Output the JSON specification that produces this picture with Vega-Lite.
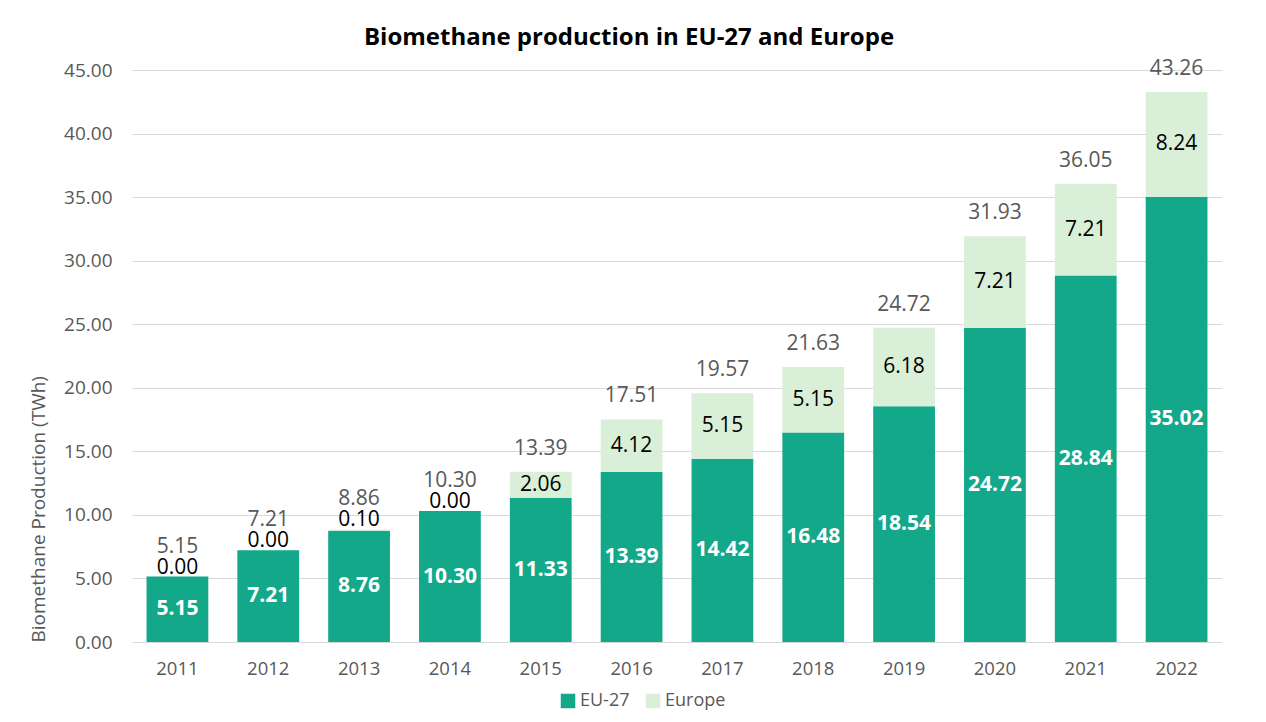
{
  "$schema": "https://vega.github.io/schema/vega-lite/v6.json",
  "width": 1090,
  "height": 572,
  "autosize": {"type": "none"},
  "padding": {"left": 132, "top": 70, "right": 44, "bottom": 80},
  "background": "white",
  "title": {
    "text": "Biomethane production in EU-27 and Europe",
    "fontSize": 24,
    "fontWeight": "bold",
    "color": "#000000",
    "font": "Open Sans",
    "anchor": "middle",
    "frame": "group",
    "dx": -48,
    "offset": 8
  },
  "config": {"view": {"stroke": null}, "font": "Open Sans"},
  "data": {
    "values": [
      {"year": "2011", "EU-27": 5.15, "Europe": 0.0, "total": 5.15},
      {"year": "2012", "EU-27": 7.21, "Europe": 0.0, "total": 7.21},
      {"year": "2013", "EU-27": 8.76, "Europe": 0.1, "total": 8.86},
      {"year": "2014", "EU-27": 10.3, "Europe": 0.0, "total": 10.3},
      {"year": "2015", "EU-27": 11.33, "Europe": 2.06, "total": 13.39},
      {"year": "2016", "EU-27": 13.39, "Europe": 4.12, "total": 17.51},
      {"year": "2017", "EU-27": 14.42, "Europe": 5.15, "total": 19.57},
      {"year": "2018", "EU-27": 16.48, "Europe": 5.15, "total": 21.63},
      {"year": "2019", "EU-27": 18.54, "Europe": 6.18, "total": 24.72},
      {"year": "2020", "EU-27": 24.72, "Europe": 7.21, "total": 31.93},
      {"year": "2021", "EU-27": 28.84, "Europe": 7.21, "total": 36.05},
      {"year": "2022", "EU-27": 35.02, "Europe": 8.24, "total": 43.26}
    ]
  },
  "encoding": {
    "x": {
      "field": "year",
      "type": "ordinal",
      "scale": {"paddingInner": 0.32, "paddingOuter": 0.16},
      "axis": {
        "title": null,
        "labelAngle": 0,
        "labelFontSize": 18.5,
        "labelColor": "#595959",
        "ticks": false,
        "domain": false,
        "grid": false,
        "labelPadding": 17
      }
    }
  },
  "layer": [
    {
      "transform": [{"fold": ["EU-27", "Europe"], "as": ["series", "value"]}],
      "mark": {"type": "bar"},
      "encoding": {
        "y": {
          "field": "value",
          "type": "quantitative",
          "stack": "zero",
          "title": "Biomethane Production (TWh)",
          "scale": {"domain": [0, 45], "nice": false},
          "axis": {
            "titleFontSize": 19,
            "titleFontWeight": "normal",
            "titleColor": "#595959",
            "titlePadding": 15,
            "titleAnchor": "start",
            "labelFontSize": 19,
            "labelColor": "#595959",
            "labelPadding": 20,
            "format": ".2f",
            "values": [0, 5, 10, 15, 20, 25, 30, 35, 40, 45],
            "ticks": false,
            "domain": false,
            "gridColor": "#d9d9d9",
            "gridWidth": 1
          }
        },
        "color": {
          "field": "series",
          "type": "nominal",
          "scale": {"domain": ["EU-27", "Europe"], "range": ["#14A88A", "#DAEFD7"]},
          "legend": {
            "title": null,
            "orient": "none",
            "direction": "horizontal",
            "legendX": 427,
            "legendY": 622,
            "symbolType": "square",
            "symbolSize": 210,
            "symbolStrokeWidth": 0,
            "labelFontSize": 18,
            "labelColor": "#595959",
            "labelOffset": 3,
            "columnPadding": 14
          }
        },
        "order": {"field": "series", "sort": "ascending"}
      }
    },
    {
      "transform": [{"calculate": "datum['EU-27'] / 2", "as": "euMid"}],
      "mark": {"type": "text", "fontSize": 21, "fontWeight": "bold", "color": "#ffffff", "baseline": "middle"},
      "encoding": {
        "y": {"field": "euMid", "type": "quantitative", "title": "Biomethane Production (TWh)"},
        "text": {"field": "EU-27", "type": "quantitative", "format": ".2f"}
      }
    },
    {
      "transform": [
        {"filter": "datum.Europe >= 1"},
        {"calculate": "datum['EU-27'] + datum.Europe / 2", "as": "euroMid"}
      ],
      "mark": {"type": "text", "fontSize": 21, "color": "#000000", "baseline": "middle"},
      "encoding": {
        "y": {"field": "euroMid", "type": "quantitative", "title": "Biomethane Production (TWh)"},
        "text": {"field": "Europe", "type": "quantitative", "format": ".2f"}
      }
    },
    {
      "transform": [{"filter": "datum.Europe < 1"}],
      "mark": {"type": "text", "fontSize": 21, "color": "#000000", "baseline": "middle", "dy": -9},
      "encoding": {
        "y": {"field": "total", "type": "quantitative", "title": "Biomethane Production (TWh)"},
        "text": {"field": "Europe", "type": "quantitative", "format": ".2f"}
      }
    },
    {
      "transform": [{"filter": "datum.Europe >= 1"}],
      "mark": {"type": "text", "fontSize": 21, "color": "#595959", "baseline": "middle", "dy": -23},
      "encoding": {
        "y": {"field": "total", "type": "quantitative", "title": "Biomethane Production (TWh)"},
        "text": {"field": "total", "type": "quantitative", "format": ".2f"}
      }
    },
    {
      "transform": [{"filter": "datum.Europe < 1"}],
      "mark": {"type": "text", "fontSize": 21, "color": "#595959", "baseline": "middle", "dy": -30},
      "encoding": {
        "y": {"field": "total", "type": "quantitative", "title": "Biomethane Production (TWh)"},
        "text": {"field": "total", "type": "quantitative", "format": ".2f"}
      }
    }
  ]
}
